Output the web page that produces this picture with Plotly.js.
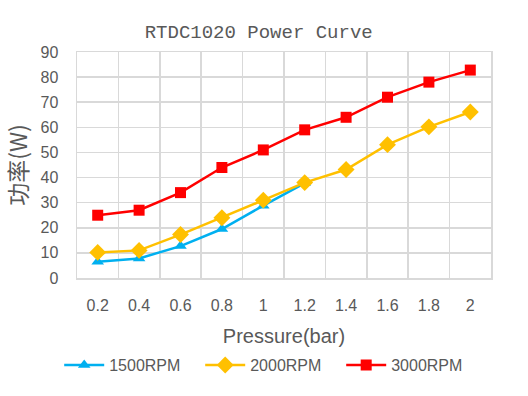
<!DOCTYPE html>
<html><head><meta charset="utf-8">
<script src="https://cdn.plot.ly/plotly-3.0.1.min.js"></script>
<style>html,body{margin:0;padding:0;background:#fff}</style>
</head><body>
<div id="chart" style="width:528px;height:396px"></div>
<script>
const pressure = ["0.2","0.4","0.6","0.8","1","1.2","1.4","1.6","1.8","2"];
const rpm1500 = [6.5, 7.8, 12.7, 19.5, 28.8, 37.8, null, null, null, null];
const rpm2000 = [10.2, 11, 17.3, 24, 31, 38, 43.2, 53.1, 60.2, 66.1];
const rpm3000 = [25, 27, 34, 44, 51, 59, 64, 72, 78, 82.8];
const seriesNames = ["1500RPM", "2000RPM", "3000RPM"];

const traces = [
  {x: pressure, y: rpm1500, name: seriesNames[0], type: "scatter", mode: "lines+markers",
   line: {color: "#00B0F0", width: 2.5}, marker: {symbol: "triangle-up", size: 11, color: "#00B0F0"}},
  {x: pressure, y: rpm2000, name: seriesNames[1], type: "scatter", mode: "lines+markers",
   line: {color: "#FFC000", width: 2.5}, marker: {symbol: "diamond", size: 13, color: "#FFC000"}},
  {x: pressure, y: rpm3000, name: seriesNames[2], type: "scatter", mode: "lines+markers",
   line: {color: "#FF0000", width: 2.5}, marker: {symbol: "square", size: 11, color: "#FF0000"}}
];

const layout = {
  width: 528, height: 396,
  margin: {l: 77, r: 37, t: 52, b: 118},
  paper_bgcolor: "#fff", plot_bgcolor: "#fff",
  font: {family: "'Liberation Sans', Arial, sans-serif", color: "#595959", size: 16},
  title: {text: "RTDC1020 Power Curve", x: 0.49, xanchor: "center", y: 0.92, yanchor: "middle",
          font: {family: "Liberation Mono", size: 19, color: "#595959"}},
  xaxis: {type: "category", range: [-0.5, 9.5], tickson: "boundaries", ticks: "",
          showgrid: true, gridcolor: "#d9d9d9", gridwidth: 1.5,
          showline: true, linecolor: "#d9d9d9", linewidth: 1.5, mirror: true,
          ticklabelstandoff: 12,
          tickfont: {size: 16, color: "#595959"},
          title: {text: "Pressure(bar)", font: {size: 20, color: "#595959"}, standoff: 16}},
  yaxis: {range: [0, 90], dtick: 10, ticks: "", showgrid: true, gridcolor: "#d9d9d9", gridwidth: 1.5,
          showline: true, linecolor: "#d9d9d9", linewidth: 1.5, mirror: true, zeroline: false,
          ticklabelstandoff: 14,
          tickfont: {size: 16, color: "#595959"},
          title: {text: "功率(W)", font: {family: "'Noto Sans CJK SC', sans-serif", size: 23, color: "#595959"}, standoff: 8}},
  legend: {orientation: "h", x: -0.043, xanchor: "left", y: -0.31, yanchor: "top",
           font: {size: 16, color: "#595959"}, itemwidth: 40,
           entrywidth: 86, entrywidthmode: "pixels"},
  showlegend: true
};
Plotly.newPlot("chart", traces, layout, {displayModeBar: false, staticPlot: true});
</script>
</body></html>
